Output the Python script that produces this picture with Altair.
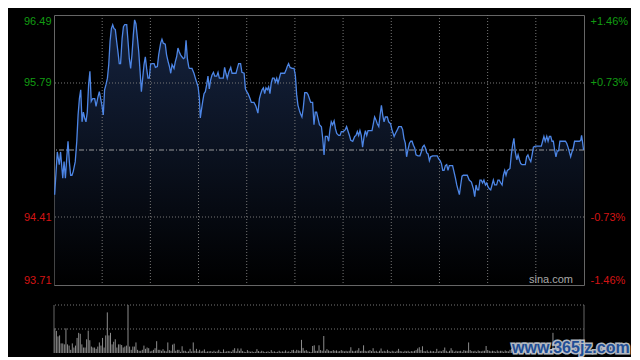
import altair as alt
import pandas as pd

# ---------------- data ----------------
t = [0.3, 1.5, 2.4, 3.0, 4.0, 4.6, 5.2, 5.8, 6.4, 7.0, 7.6, 8.2, 8.8, 9.7, 10.4, 11.0, 11.6, 12.2, 12.8, 13.4,
     14.0, 14.6, 15.2, 15.8, 16.4, 17.0, 17.7, 18.6, 19.2, 20.1, 20.7, 21.3, 21.9, 22.5, 23.1, 23.7, 24.4, 25.0,
     25.6, 26.2, 26.8, 27.4, 28.0, 28.6, 29.2, 29.8, 30.4, 31.1, 31.7, 32.3, 33.2, 33.8, 34.4, 35.0, 35.6, 36.2,
     36.8, 37.4, 38.1, 38.7, 39.3, 39.9, 40.5, 41.1, 41.7, 42.3, 42.9, 43.5, 44.1, 44.7, 45.7, 46.3, 47.2, 47.8,
     48.7, 49.3, 49.9, 50.8, 51.4, 52.1, 52.7, 53.3, 53.9, 54.8, 55.4, 56.0, 56.6, 57.2, 57.8, 58.4, 59.1, 59.7,
     60.3, 60.9, 61.5,
     61.8, 63.0, 63.9, 64.8, 65.8, 66.4, 66.8, 67.3, 67.9, 68.5, 69.1, 69.7, 70.3, 70.9, 71.5, 72.1, 72.8, 73.4,
     74.3, 74.9, 75.5, 76.4, 77.3, 77.9, 78.5, 79.1, 79.8, 80.7, 81.3, 82.2, 83.1, 83.7, 84.3, 85.2, 85.8, 86.8,
     87.4, 88.0, 88.6, 89.5, 90.1, 91.3, 92.2, 93.1, 93.8, 94.4, 95.0, 95.6, 96.2, 96.8, 97.4, 98.0, 98.6, 99.2,
     99.8, 100.5, 101.1, 101.7, 102.3, 102.9, 103.5, 104.4, 105.3, 105.9, 106.5, 107.1, 107.8, 108.7, 109.6,
     110.2, 110.8, 111.4, 112.0, 112.6, 113.2, 113.8, 114.5, 115.4, 116.0, 116.6, 117.2, 118.1, 118.7, 119.3,
     119.9, 120.5, 121.2, 122.1, 122.7, 123.3, 123.9, 124.8,
     125.4, 126.0, 126.6, 127.2, 127.9, 128.5, 129.1, 130.0, 130.6, 131.2, 132.1, 133.0, 133.6, 134.3, 134.9,
     135.5, 136.4, 137.3, 137.9, 138.5, 139.1, 139.7, 140.3, 140.9, 141.6, 142.2, 142.8, 143.4, 144.3, 145.2,
     145.8, 146.4, 147.0, 147.6, 148.3, 148.9, 149.5, 150.1, 150.7, 151.3, 152.2, 152.8, 153.7, 154.3, 155.3,
     155.9, 156.8, 157.4, 158.6, 159.2, 159.8, 160.4, 161.0, 161.6, 162.3, 162.9, 163.5, 164.1, 164.7, 165.3,
     166.2, 167.1, 167.7, 168.3, 169.0, 169.6, 170.2, 170.8, 171.4, 172.0, 172.9, 173.8, 175.0, 175.6, 176.3,
     176.9, 177.5, 178.1, 178.7, 179.3, 179.9, 180.5, 181.4, 182.0, 182.6, 183.3, 183.9, 184.5, 185.1, 185.7,
     186.3, 186.9, 187.8,
     188.7, 189.6, 190.6, 191.5, 192.1, 192.7, 193.3, 193.9, 194.5, 195.1, 195.7, 196.3, 197.0, 197.6, 198.2,
     198.8, 199.4, 200.0, 200.6, 201.2, 202.1, 202.7, 203.3, 204.0, 204.6, 205.2, 205.8, 206.4, 207.0, 207.6,
     208.2, 208.8, 209.4, 210.0, 210.6, 211.3, 211.9, 212.5, 213.1, 213.7, 214.3, 215.2, 215.8, 216.4, 217.0,
     217.7, 218.3, 218.9, 219.8, 220.7, 221.9, 222.5, 223.1, 223.7, 224.3, 225.0, 225.6, 226.2, 226.8, 227.4,
     228.0, 228.6, 229.2, 229.8, 230.4, 231.0, 231.7, 232.6, 233.5, 234.1, 234.7, 235.3, 235.9, 236.5, 237.1,
     237.7, 238.3, 239.3, 239.9, 240.5, 240.9, 241.4, 241.8]

price = [94.64, 95.08, 94.95, 95.08, 94.81, 94.98, 94.81, 95.01, 95.19, 94.98, 94.84, 94.84, 94.88, 94.98, 95.19,
         95.46, 95.63, 95.72, 95.39, 95.49, 95.43, 95.39, 95.49, 95.77, 95.91, 95.60, 95.63, 95.63, 95.55, 95.65,
         95.70, 95.63, 95.56, 95.46, 95.72, 95.77, 95.84, 95.98, 96.22, 96.35, 96.39, 96.35, 96.34, 96.22, 96.11,
         95.99, 95.99, 96.25, 96.37, 96.39, 96.39, 96.22, 96.04, 95.94, 96.08, 96.28, 96.44, 96.40, 96.25, 96.11,
         95.91, 95.70, 95.84, 95.98, 96.06, 95.94, 95.84, 95.84, 95.98, 95.99, 95.99, 95.95, 95.96, 96.08, 96.20,
         96.24, 96.20, 96.19, 96.08, 96.01, 95.96, 95.89, 95.98, 95.94, 96.01, 96.06, 96.15, 96.11, 96.08, 96.06,
         96.04, 96.05, 96.23, 96.04, 95.96,
         95.94, 95.94, 95.89, 95.82, 95.75, 95.63, 95.43, 95.51, 95.60, 95.68, 95.70, 95.77, 95.86, 95.73, 95.82,
         95.87, 95.90, 95.86, 95.86, 95.90, 95.84, 95.84, 95.84, 95.95, 95.89, 95.84, 95.90, 95.95, 95.89, 95.89,
         95.89, 95.94, 95.99, 95.99, 95.90, 95.89, 95.73, 95.70, 95.68, 95.63, 95.59, 95.59, 95.55, 95.48, 95.63,
         95.68, 95.72, 95.74, 95.68, 95.74, 95.72, 95.75, 95.68, 95.79, 95.84, 95.84, 95.80, 95.84, 95.79, 95.84,
         95.89, 95.89, 95.89, 95.92, 95.96, 95.99, 95.95, 95.94, 95.94, 95.87, 95.67, 95.56, 95.51, 95.47, 95.44,
         95.53, 95.69, 95.69, 95.67, 95.63, 95.59, 95.59, 95.36, 95.49, 95.49, 95.43, 95.36, 95.34, 95.22, 95.05,
         95.24, 95.24,
         95.19, 95.31, 95.39, 95.36, 95.40, 95.32, 95.27, 95.25, 95.25, 95.29, 95.29, 95.31, 95.34, 95.29, 95.25,
         95.20, 95.19, 95.24, 95.25, 95.29, 95.25, 95.30, 95.25, 95.13, 95.24, 95.30, 95.25, 95.30, 95.30, 95.30,
         95.37, 95.44, 95.41, 95.37, 95.34, 95.46, 95.56, 95.46, 95.39, 95.44, 95.44, 95.39, 95.37, 95.31, 95.24,
         95.27, 95.31, 95.34, 95.34, 95.31, 95.22, 95.17, 95.03, 95.10, 95.17, 95.19, 95.19, 95.15, 95.12, 95.05,
         95.04, 95.04, 95.08, 95.13, 95.15, 95.12, 95.07, 95.06, 94.99, 95.03, 95.04, 95.04, 95.04, 95.01, 94.99,
         94.96, 94.89, 94.89, 94.94, 94.95, 94.89, 94.94, 94.94, 94.94, 94.88, 94.81, 94.74, 94.69, 94.64, 94.74,
         94.83, 94.84, 94.84,
         94.84, 94.79, 94.77, 94.70, 94.62, 94.74, 94.69, 94.69, 94.79, 94.79, 94.76, 94.79, 94.74, 94.76, 94.72,
         94.70, 94.69, 94.74, 94.79, 94.74, 94.74, 94.79, 94.79, 94.76, 94.74, 94.84, 94.89, 94.84, 94.89, 94.90,
         94.91, 95.05, 95.15, 95.22, 95.08, 95.00, 95.05, 95.00, 94.96, 94.95, 94.95, 94.95, 95.03, 95.05, 95.01,
         94.98, 95.05, 95.13, 95.14, 95.14, 95.14, 95.14, 95.19, 95.24, 95.19, 95.24, 95.19, 95.24, 95.24, 95.19,
         95.19, 95.10, 95.03, 95.09, 95.09, 95.19, 95.19, 95.19, 95.19, 95.17, 95.13, 95.08, 95.03, 95.08, 95.12,
         95.19, 95.19, 95.19, 95.19, 95.20, 95.25, 95.17, 95.10]

vol_open = [25.7, 23, 17.3, 18.3, 10, 10, 9, 25.7, 9, 7.7, 3.3, 10, 5.7, 7.7, 15.7, 21, 20, 9, 5.7, 5.7, 14.3,
            23.3, 13.3, 6.7, 5.7, 5.7, 4.3, 6.7, 11, 7.7, 15.7, 5.7, 18.3, 42.3, 18.3, 21, 9, 11.7, 14.3, 5.7, 9,
            9, 8.3, 5.7, 6.7, 7.7, 60, 6.7]
vol_mid = [3.3, 6.7, 6.7, 11, 3.3, 2.3, 2.3, 3.3, 7.7, 4.3, 5.7, 5, 1.7, 2.3, 3.3, 5, 12.3, 3.3, 3.3, 2.3, 4, 2.3,
           1.7, 11, 3, 2.3, 8.7, 9.7, 2.3, 3.3, 3.3, 1.3, 7, 2.3, 2.3, 1.3, 1.7, 4.3, 1.7, 11, 2.3, 4.3, 1.7, 3.3,
           1.7, 2.3, 3.7, 1.3, 1.7, 1.7, 2, 1.3, 2.3, 1.3, 1.7, 3.3, 1.3, 1, 3.7, 1.3, 1.7, 2, 1.7, 1.3, 3.3,
           5, 1.7, 4.7, 2.3, 4.7, 2, 1.3, 1, 3, 1.7, 1.3, 1.7, 1, 1.3, 4, 2, 1.3, 2.3, 1.7, 1, 1.3, 1.7, 1, 3, 1.3,
           1.7, 1, 1.3, 2.3, 1.3, 1.7, 1.3, 2.7, 1.3, 1.7, 1, 3, 3.3, 1.7, 3.3, 2.7, 2.3, 13.7, 5.3, 2.3, 3,
           1.7, 1.3, 1, 7.3, 8, 2.3]
vol_late = [2.3, 8, 3, 2.3, 17.7, 2.3, 4, 2.7, 2, 2, 3, 2.3, 2.7, 1.7, 2, 3, 2.3, 1.7, 2.3, 1.7, 2.3, 6, 2.3, 1.7,
            2.3, 2.7, 5, 2, 2.3, 8, 2.3, 1.7, 2.3, 3, 2, 5, 1.7, 2.3, 1.3, 2.3, 4.7, 1.7, 2.3, 1.7, 3.3, 2, 1.3,
            2.3, 1.7, 1.3, 2.3, 4.3, 2, 1.7, 1.3, 2.3, 1.7, 2.3, 1.3, 2, 1.7, 2.3, 3, 4.7, 6, 3, 7, 2, 1.7, 2.7,
            1.3, 2.3, 1.7, 2, 1.3, 4.3, 1.7, 2.3, 1.7, 3, 5.7, 2.3, 1.3, 2.3, 5, 2.7, 1.3, 2.3, 1.7, 2, 2.3, 1.3,
            3, 2.3, 2.3, 11, 3, 2, 1.7, 2.3, 1.3, 2.7, 2, 1.7, 2.3, 2.3, 7.3, 3, 2.3, 1.7, 2.3, 2, 1.3, 2.7, 1.7,
            2.3, 2.3, 1.3, 2.7, 2, 1.7, 3.3, 4.3, 5, 3, 3.3, 2, 2.3, 1.7, 2.7, 4, 2.3, 3, 2.3, 3.3, 2, 4, 2.7,
            2.3, 3.3, 2.7, 2.3, 3, 3.7, 2.3, 3, 2.7, 4, 21, 3.3, 2.7, 3,
            2.3, 3, 2.7, 3.3, 2.3, 3, 2.7, 3.3, 2.3, 3, 2.7, 3.3, 3, 4, 3.3, 5]
volume = vol_open + vol_mid + vol_late

left_ticks = [96.49, 95.79, 94.41, 93.71]
right_labels = ["+1.46%", "+0.73%", "-0.73%", "-1.46%"]
prev_close = 95.10
grid_prices = [95.79, 94.41]
grid_times = [22, 44, 66, 88, 110, 132, 154, 176, 198, 220]
vol_grid = [25, 50]

# ---------------- style ----------------
W, H, VH = 530, 270, 48
Y_DOM = [93.71, 96.49]
X_DOM = [0, 242]
V_DOM = [0, 50]
FONT = "Liberation Sans"
GREEN = "#129c12"
RED = "#d41414"
LINE = "#4d86e6"
GRID = "#777777"
FRAME = "#666666"

yscale = alt.Scale(domain=Y_DOM, nice=False, zero=False)
xscale = alt.Scale(domain=X_DOM, nice=False, zero=False)
color_cond = {"condition": {"test": f"datum.value > {prev_close}", "value": GREEN}, "value": RED}

expr = f"'{right_labels[-1]}'"
for v, lab in reversed(list(zip(left_ticks[:-1], right_labels[:-1]))):
    expr = f"datum.value > {v - 0.005:.3f} ? '{lab}' : " + expr

left_axis = alt.Axis(values=left_ticks, format=".2f", labelFlush=True, ticks=False, domain=False, grid=False,
                     labelPadding=3, labelFontSize=11, labelFont=FONT, labelColor=color_cond, title=None)
right_axis = alt.Axis(values=left_ticks, labelExpr=expr, orient="right", labelFlush=True, ticks=False,
                      domain=False, grid=False, labelPadding=6, labelFontSize=11, labelFont=FONT,
                      labelColor=color_cond, title=None)

price_df = pd.DataFrame({"t": t, "price": price})
xenc = alt.X("t:Q", scale=xscale, axis=None)

gradient = alt.Gradient(gradient="linear", x1=0, x2=0, y1=0, y2=1,
                        stops=[alt.GradientStop(color="#15233f", offset=0),
                               alt.GradientStop(color="#000000", offset=1)])

area = alt.Chart(price_df).mark_area(color=gradient).encode(
    x=xenc, y=alt.Y("price:Q", scale=yscale, axis=left_axis), y2=alt.datum(Y_DOM[0]))
line = alt.Chart(price_df).mark_line(color=LINE, strokeWidth=1.3).encode(
    x=xenc, y=alt.Y("price:Q", scale=yscale, axis=None))
vgrid = alt.Chart(pd.DataFrame({"t": grid_times})).mark_rule(color=GRID, strokeDash=[1, 2]).encode(x=xenc)
hgrid = alt.Chart(pd.DataFrame({"price": grid_prices})).mark_rule(color=GRID, strokeDash=[1, 2]).encode(
    y=alt.Y("price:Q", scale=yscale, axis=None))
prev = alt.Chart(pd.DataFrame({"price": [prev_close]})).mark_rule(color="#9a9a9a", strokeDash=[5, 2, 1, 2]).encode(
    y=alt.Y("price:Q", scale=yscale, axis=None))
right = alt.Chart(pd.DataFrame({"price": left_ticks})).mark_rule(opacity=0).encode(
    y=alt.Y("price:Q", scale=yscale, axis=right_axis))
sina = alt.Chart(pd.DataFrame({"s": ["sina.com"]})).mark_text(
    align="right", baseline="alphabetic", font=FONT, fontSize=11, color="#a8a8a8").encode(
    x=alt.value(519), y=alt.value(268), text="s:N")

price_panel = alt.layer(area, vgrid, hgrid, prev, line, right, sina).resolve_scale(y="independent").properties(
    width=W, height=H)

vol_df = pd.DataFrame({"i": list(range(len(volume))), "v": volume})
n = len(volume)
vx = alt.Scale(domain=[-0.5, n - 0.5], nice=False, zero=False)
vy = alt.Scale(domain=V_DOM, nice=False)
bars = alt.Chart(vol_df).mark_rule(color="#8c8c8c", strokeWidth=1, clip=True).encode(
    x=alt.X("i:Q", scale=vx, axis=None), y=alt.Y("v:Q", scale=vy, axis=None), y2=alt.datum(0))
vgrid2 = alt.Chart(pd.DataFrame({"v": vol_grid})).mark_rule(color=GRID, strokeDash=[1, 2]).encode(
    y=alt.Y("v:Q", scale=vy, axis=None))
vborder = alt.Chart(pd.DataFrame({"i": [-0.5, n - 0.5]})).mark_rule(color=FRAME).encode(
    x=alt.X("i:Q", scale=vx, axis=None))
wm_df = pd.DataFrame({"w": ["www.365jz.com"]})
wm_glow = alt.Chart(wm_df).mark_text(align="left", baseline="alphabetic", font=FONT, fontSize=16,
                                     fontWeight="bold", color="#dfe6f0", stroke="#dfe6f0", strokeWidth=3,
                                     opacity=0.8).encode(x=alt.value(458), y=alt.value(48), text="w:N")
wm = alt.Chart(wm_df).mark_text(align="left", baseline="alphabetic", font=FONT, fontSize=16,
                                fontWeight="bold", color="#1f4e96").encode(x=alt.value(458), y=alt.value(48),
                                                                             text="w:N")
vol_panel = alt.layer(bars, vgrid2, vborder, wm_glow, wm).properties(
    width=W, height=VH, view=alt.ViewBackground(stroke="transparent"))

chart = alt.vconcat(price_panel, vol_panel, spacing=20, bounds="flush").properties(
    background="#000000", padding={"left": 14, "top": 6, "right": 0, "bottom": 0}
).configure_view(stroke=FRAME, strokeWidth=1)

chart.save("out.html", embed_options={"renderer": "svg", "actions": False})
